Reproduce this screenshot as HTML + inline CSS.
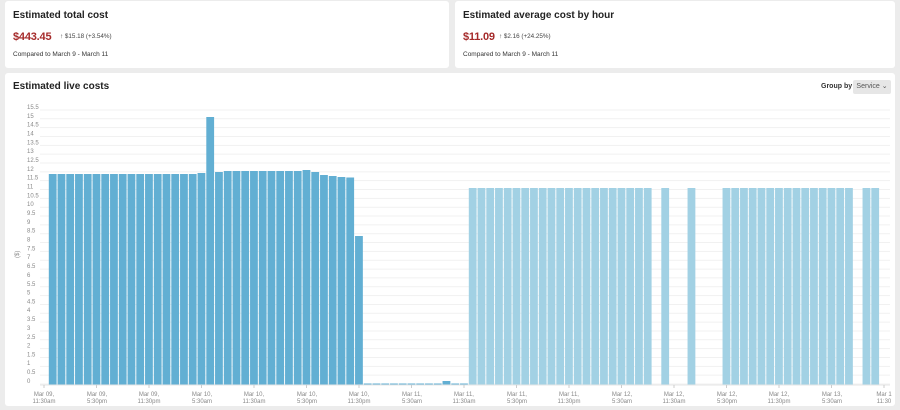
<!DOCTYPE html>
<html><head><meta charset="utf-8"><style>
body{margin:0;width:900px;height:410px;background:#ececec;font-family:"Liberation Sans",sans-serif;overflow:hidden;position:relative}
.card{position:absolute;background:#fff;border-radius:3px}
.t{position:absolute;font-size:10px;font-weight:bold;color:#222}
.big{position:absolute;font-size:11px;font-weight:bold;color:#a52a2a;letter-spacing:-0.2px}
.d{position:absolute;font-size:6.3px;color:#444}
.c{position:absolute;font-size:6.5px;color:#333}
</style></head><body>
<div class="card" style="left:5px;top:1px;width:444px;height:67px">
<div class="t" style="left:8px;top:9px">Estimated total cost</div>
<div class="big" style="left:8px;top:30px">$443.45</div>
<div class="d" style="left:55px;top:32px">↑ $15.18 (+3.54%)</div>
<div class="c" style="left:8px;top:50px">Compared to March 9 - March 11</div>
</div>
<div class="card" style="left:455px;top:1px;width:440px;height:67px">
<div class="t" style="left:8px;top:9px">Estimated average cost by hour</div>
<div class="big" style="left:8px;top:30px">$11.09</div>
<div class="d" style="left:44px;top:32px">↑ $2.16 (+24.25%)</div>
<div class="c" style="left:8px;top:50px">Compared to March 9 - March 11</div>
</div>
<div class="card" style="left:5px;top:73px;width:890px;height:333px">
<div class="t" style="left:8px;top:8px">Estimated live costs</div>
<div style="position:absolute;left:816px;top:10px;font-size:7px;font-weight:bold;color:#333">Group by</div>
<div style="position:absolute;left:848px;top:7px;width:38px;height:14px;background:#e6e6e6;border-radius:2px;font-size:7px;color:#555;line-height:14px;text-align:center">Service ⌄</div>
</div>
<svg width="900" height="410" style="position:absolute;left:0;top:0" font-family="Liberation Sans, sans-serif">
<g id="grid" stroke="#f1f1f1" stroke-width="1"></g>
<g font-size="6" fill="#888">
<text x="27" y="383">0</text><text x="27" y="374">0.5</text><text x="27" y="365">1</text><text x="27" y="356.5">1.5</text><text x="27" y="347.5">2</text><text x="27" y="339">2.5</text><text x="27" y="330">3</text><text x="27" y="321">3.5</text><text x="27" y="312">4</text><text x="27" y="303.5">4.5</text><text x="27" y="294.5">5</text><text x="27" y="286">5.5</text><text x="27" y="277">6</text><text x="27" y="268">6.5</text><text x="27" y="259">7</text><text x="27" y="250.5">7.5</text><text x="27" y="241.5">8</text><text x="27" y="232.5">8.5</text><text x="27" y="224">9</text><text x="27" y="215">9.5</text><text x="27" y="206">10</text><text x="27" y="197.5">10.5</text><text x="27" y="188.5">11</text><text x="27" y="179.5">11.5</text><text x="27" y="171">12</text><text x="27" y="162">12.5</text><text x="27" y="153">13</text><text x="27" y="144.5">13.5</text><text x="27" y="135.5">14</text><text x="27" y="126.5">14.5</text><text x="27" y="118">15</text><text x="27" y="109">15.5</text>
</g>
<text x="19" y="258" font-size="6" fill="#888" transform="rotate(-90 19 258)">($)</text>
<g id="bars"></g>
<line x1="40" y1="385" x2="890" y2="385" stroke="#e6e6e6"/>
<g id="ticks" stroke="#ccc"></g>
<g font-size="6" fill="#888" text-anchor="middle">
<text x="44" y="396">Mar 09,</text><text x="44" y="403">11:30am</text>
<text x="97" y="396">Mar 09,</text><text x="97" y="403">5:30pm</text>
<text x="149" y="396">Mar 09,</text><text x="149" y="403">11:30pm</text>
<text x="202" y="396">Mar 10,</text><text x="202" y="403">5:30am</text>
<text x="254" y="396">Mar 10,</text><text x="254" y="403">11:30am</text>
<text x="307" y="396">Mar 10,</text><text x="307" y="403">5:30pm</text>
<text x="359" y="396">Mar 10,</text><text x="359" y="403">11:30pm</text>
<text x="412" y="396">Mar 11,</text><text x="412" y="403">5:30am</text>
<text x="464" y="396">Mar 11,</text><text x="464" y="403">11:30am</text>
<text x="517" y="396">Mar 11,</text><text x="517" y="403">5:30pm</text>
<text x="569" y="396">Mar 11,</text><text x="569" y="403">11:30pm</text>
<text x="622" y="396">Mar 12,</text><text x="622" y="403">5:30am</text>
<text x="674" y="396">Mar 12,</text><text x="674" y="403">11:30am</text>
<text x="727" y="396">Mar 12,</text><text x="727" y="403">5:30pm</text>
<text x="779" y="396">Mar 12,</text><text x="779" y="403">11:30pm</text>
<text x="832" y="396">Mar 13,</text><text x="832" y="403">5:30am</text>
<text x="884" y="396">Mar 1</text><text x="884" y="403">11:30</text>
</g>
</svg>
<script>
var ns="http://www.w3.org/2000/svg";
var g=document.getElementById('grid');
for(var k=0;k<=31;k++){var y=384-8.84*k;var l=document.createElementNS(ns,'line');l.setAttribute('x1',40);l.setAttribute('x2',890);l.setAttribute('y1',y);l.setAttribute('y2',y);g.appendChild(l);}
var t=document.getElementById('ticks');
for(var i=0;i<17;i++){var x=44+i*52.5;var l=document.createElementNS(ns,'line');l.setAttribute('x1',x);l.setAttribute('x2',x);l.setAttribute('y1',385);l.setAttribute('y2',388);t.appendChild(l);}
var tops={};
for(i=0;i<=16;i++)tops[i]=174;tops[17]=173;tops[18]=117;tops[19]=172;
for(i=20;i<=28;i++)tops[i]=171;tops[29]=170;tops[30]=172;tops[31]=175;tops[32]=176;tops[33]=177;tops[34]=177.5;tops[35]=236;
for(i=36;i<=47;i++)tops[i]=383.5;tops[45]=381;
var light=[];for(i=48;i<=68;i++)light.push(i);light.push(70,73);for(i=77;i<=91;i++)light.push(i);light.push(93,94);
var b=document.getElementById('bars');
function bar(i,top,col){var r=document.createElementNS(ns,'rect');r.setAttribute('x',48.8+i*8.75);r.setAttribute('width',7.8);r.setAttribute('y',top);r.setAttribute('height',384.5-top);r.setAttribute('fill',col);b.appendChild(r);}
for(i in tops)bar(+i,tops[i],'#62afd3');
light.forEach(function(i){bar(i,188,'#a2d1e4');});
</script>
</body></html>
